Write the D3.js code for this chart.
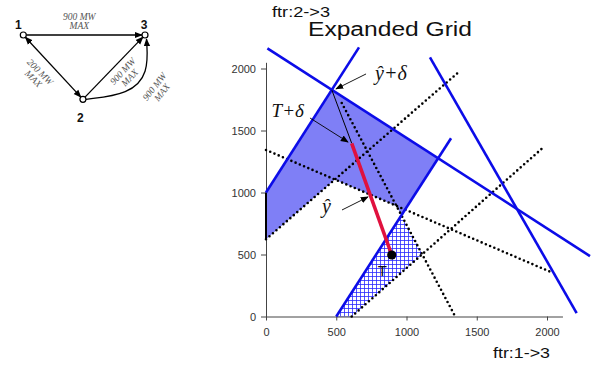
<!DOCTYPE html>
<html>
<head>
<meta charset="utf-8">
<script src="https://cdn.jsdelivr.net/npm/d3@7.9.0/dist/d3.min.js"></script>
<style>
  body { margin: 0; background: #fff; }
  svg { display: block; font-family: Arial, "Liberation Sans", sans-serif; }
  .tick text { fill: #333; font-size: 11px; }
  .serif { font-family: "Liberation Serif", "DejaVu Serif", serif; font-style: italic; }
</style>
</head>
<body>
<svg id="chart" width="592" height="365"></svg>
<script>
// ---------- Data (MW) ----------
const xTicks = [0, 500, 1000, 1500, 2000];
const yTicks = [0, 500, 1000, 1500, 2000];

// blue constraint lines (ftr:1->3, ftr:2->3)
const blueLines = [
  [[10, 2163], [2306, 487]],
  [[1167, 2090], [2211, 28]],
  [[0, 1000], [662, 2170]],
  [[500, 0], [1317, 1438]]
];

// black dotted constraint lines
const dottedLines = [
  [[0, 623], [1374, 1974]],
  [[0, 1343], [2043, 351]],
  [[539, 1722], [1345, 4]],
  [[610, 0], [1979, 1369]]
];

// shaded expanded region and hatched original region
const expandedRegion = [[0, 1000], [469, 1825], [1222, 1272], [964, 816], [928, 892], [490, 1105], [0, 623]];
const hatchedRegion = [[500, 0], [610, 0], [1112, 502], [964, 816]];

// path T -> T+delta -> yhat+delta
const pointT = [895, 496];
const pointTd = [610, 1397];
const pointYd = [469, 1825];

// annotations: label, text anchor, arrow from, arrow to
const annotations = [
  { label: "ŷ+δ", at: [776, 1905], from: [712, 1956], to: [498, 1835], size: 20 },
  { label: "T+δ", at: [40, 1609], from: [313, 1601], to: [584, 1407], size: 19 },
  { label: "ŷ", at: [399, 834], from: [541, 859], to: [726, 964], size: 20 }
];

// network diagram
const nodes = [
  { id: "1", gx: 0, gy: 0 },
  { id: "3", gx: 1, gy: 0 },
  { id: "2", gx: 0.49, gy: 1 }
];
const edges = [
  { from: "1", to: "3", both: false },
  { from: "1", to: "2", both: true },
  { from: "2", to: "3", both: false }
];
const edgeLabels = [
  { lines: ["900 MW", "MAX"], gx: 0.46, gy: -0.235, rot: 0 },
  { lines: ["200 MW", "MAX"], gx: 0.12, gy: 0.61, rot: 45 },
  { lines: ["900 MW", "MAX"], gx: 0.836, gy: 0.596, rot: -47 },
  { lines: ["900 MW", "MAX"], gx: 1.098, gy: 0.832, rot: -52 }
];

// ---------- Setup ----------
const svg = d3.select("#chart");
const x = d3.scaleLinear().domain([0, 2000]).range([266, 547]);
const y = d3.scaleLinear().domain([0, 2000]).range([316.5, 68.5]);
const line = d3.line().x(d => x(d[0])).y(d => y(d[1]));

const defs = svg.append("defs");
const hatch = defs.append("pattern")
  .attr("id", "hatch").attr("patternUnits", "userSpaceOnUse")
  .attr("width", 4).attr("height", 4);
hatch.append("rect").attr("width", 4).attr("height", 4).attr("fill", "#fff");
hatch.append("path").attr("d", "M0,0.5H4M0.5,0V4")
  .attr("stroke", "#2a2aff").attr("stroke-width", 0.8);

defs.append("marker")
  .attr("id", "arr").attr("viewBox", "0 0 10 10")
  .attr("refX", 9).attr("refY", 5)
  .attr("markerWidth", 8).attr("markerHeight", 8)
  .attr("markerUnits", "userSpaceOnUse")
  .attr("orient", "auto-start-reverse")
  .append("path").attr("d", "M0,1L10,5L0,9z").attr("fill", "#000");

// ---------- Regions ----------
svg.append("path")
  .attr("d", line(expandedRegion) + "Z")
  .attr("fill", "#7f7ff6");

svg.append("path")
  .attr("d", line(hatchedRegion) + "Z")
  .attr("fill", "url(#hatch)");

// ---------- Axes ----------
const xAxisScale = x.copy().domain([0, 2110]).range([x(0), x(2110)]);
const yAxisScale = y.copy().domain([0, 2050]).range([y(0), y(2050)]);

svg.append("g")
  .attr("transform", `translate(0,${y(0)})`)
  .call(d3.axisBottom(xAxisScale).tickValues(xTicks).tickFormat(d3.format("d"))
    .tickSize(4).tickSizeOuter(0).tickPadding(8))
  .call(g => g.selectAll(".domain, line").attr("stroke", "#444"));

svg.append("g")
  .attr("transform", `translate(${x(0)},0)`)
  .call(d3.axisLeft(yAxisScale).tickValues(yTicks).tickFormat(d3.format("d"))
    .tickSize(5).tickSizeOuter(0).tickPadding(5))
  .call(g => g.selectAll(".domain, line").attr("stroke", "#444"));

// left edge of the expanded region on the axis
svg.append("path")
  .attr("d", line([[0, 623], [0, 1000]]))
  .attr("stroke", "#000").attr("stroke-width", 2);

// ---------- Constraint lines ----------
svg.selectAll(".dotted")
  .data(dottedLines)
  .join("path")
  .attr("class", "dotted")
  .attr("d", d => line(d))
  .attr("fill", "none")
  .attr("stroke", "#000")
  .attr("stroke-width", 2.6)
  .attr("stroke-linecap", "round")
  .attr("stroke-dasharray", "0,4.6");

svg.selectAll(".blue")
  .data(blueLines)
  .join("path")
  .attr("class", "blue")
  .attr("d", d => line(d))
  .attr("fill", "none")
  .attr("stroke", "#0c0ce8")
  .attr("stroke-width", 2.6);

// ---------- T path ----------
svg.append("path")
  .attr("d", line([pointYd, pointTd]))
  .attr("stroke", "#000").attr("stroke-width", 1);

svg.append("path")
  .attr("d", line([pointTd, pointT]))
  .attr("stroke", "#e0113e").attr("stroke-width", 3.6);

svg.append("circle")
  .attr("cx", x(pointT[0])).attr("cy", y(pointT[1])).attr("r", 4.6)
  .attr("fill", "#000");

svg.append("text")
  .attr("x", x(795)).attr("y", y(330))
  .attr("font-size", 15).attr("fill", "#111")
  .text("T");

// ---------- Annotations ----------
annotations.forEach(a => {
  svg.append("text")
    .attr("class", "serif")
    .attr("x", x(a.at[0])).attr("y", y(a.at[1]))
    .attr("font-size", a.size).attr("fill", "#111")
    .text(a.label);
  svg.append("path")
    .attr("d", line([a.from, a.to]))
    .attr("stroke", "#000").attr("stroke-width", 0.9)
    .attr("marker-end", "url(#arr)");
});

// ---------- Titles ----------
svg.append("text")
  .attr("x", 308).attr("y", 36)
  .attr("font-size", 20).attr("fill", "#111")
  .attr("textLength", 164).attr("lengthAdjust", "spacingAndGlyphs")
  .text("Expanded Grid");

svg.append("text")
  .attr("x", 272).attr("y", 17)
  .attr("font-size", 14).attr("fill", "#111")
  .attr("textLength", 58).attr("lengthAdjust", "spacingAndGlyphs")
  .text("ftr:2->3");

svg.append("text")
  .attr("x", 493).attr("y", 358)
  .attr("font-size", 14).attr("fill", "#111")
  .attr("textLength", 57).attr("lengthAdjust", "spacingAndGlyphs")
  .text("ftr:1->3");

// ---------- Network diagram ----------
const gx = d3.scaleLinear().domain([0, 1]).range([23.3, 145]);
const gy = d3.scaleLinear().domain([0, 1]).range([35, 99.3]);
const byId = Object.fromEntries(nodes.map(n => [n.id, n]));
const nodeR = 3;

const net = svg.append("g");

function trimmed(a, b) {
  const x1 = gx(a.gx), y1 = gy(a.gy), x2 = gx(b.gx), y2 = gy(b.gy);
  const len = Math.hypot(x2 - x1, y2 - y1);
  const ux = (x2 - x1) / len, uy = (y2 - y1) / len;
  return [[x1 + ux * nodeR, y1 + uy * nodeR], [x2 - ux * nodeR, y2 - uy * nodeR]];
}

edges.forEach(e => {
  const pts = trimmed(byId[e.from], byId[e.to]);
  net.append("path")
    .attr("d", d3.line()(pts))
    .attr("stroke", "#000").attr("stroke-width", 1.3).attr("fill", "none")
    .attr("marker-end", "url(#arr)")
    .attr("marker-start", e.both ? "url(#arr)" : null);
});

// curved parallel path 2 -> 3
const n2 = byId["2"], n3 = byId["3"];
const curvePts = [
  [gx(n2.gx) + nodeR, gy(n2.gy)],
  [gx(0.87), gy(0.92)],
  [gx(1.03), gy(0.6)],
  [gx(n3.gx) + 1.5, gy(n3.gy) + nodeR + 1]
];
net.append("path")
  .attr("d", d3.line().curve(d3.curveBasis)(curvePts))
  .attr("stroke", "#000").attr("stroke-width", 1.3).attr("fill", "none")
  .attr("marker-end", "url(#arr)");

net.selectAll("circle")
  .data(nodes)
  .join("circle")
  .attr("cx", d => gx(d.gx)).attr("cy", d => gy(d.gy))
  .attr("r", nodeR)
  .attr("fill", "#fff").attr("stroke", "#000").attr("stroke-width", 1.2);

net.selectAll(".nlabel")
  .data(nodes)
  .join("text")
  .attr("class", "nlabel")
  .attr("x", d => gx(d.gx) - (d.id === "2" ? 2.5 : d.id === "1" ? 5 : 1))
  .attr("y", d => d.id === "2" ? gy(d.gy) + 23 : gy(d.gy) - 6)
  .attr("text-anchor", "middle")
  .attr("font-size", 12).attr("font-weight", "bold").attr("fill", "#111")
  .text(d => d.id);

edgeLabels.forEach(l => {
  const t = net.append("text")
    .attr("class", "serif")
    .attr("transform", `translate(${gx(l.gx)},${gy(l.gy)}) rotate(${l.rot})`)
    .attr("text-anchor", "middle")
    .attr("font-size", 9.5).attr("fill", "#555");
  l.lines.forEach((s, i) => {
    t.append("tspan").attr("x", 0).attr("y", i * 9.5).text(s);
  });
});
</script>
</body>
</html>
